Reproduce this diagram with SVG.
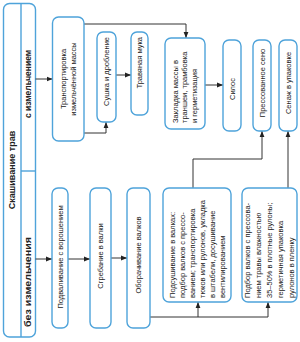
<svg xmlns="http://www.w3.org/2000/svg" width="300" height="342" viewBox="0 0 300 342">
<defs>
<marker id="ah" viewBox="0 0 10 10" refX="10" refY="5" markerWidth="6" markerHeight="6" markerUnits="userSpaceOnUse" orient="auto">
<path d="M0,1 L10,5 L0,9 z" fill="#222"/>
</marker>
<style>
.box{fill:#fff;stroke:#4ea3da;stroke-width:1.4}
.ln{fill:none;stroke:#4ea3da;stroke-width:1.4}
.c{fill:none;stroke:#333;stroke-width:1}
.a{marker-end:url(#ah)}
text{font-family:"Liberation Sans",Arial,sans-serif;font-size:7.5px;fill:#222}
.h{font-weight:bold;font-size:9px}
.s{font-weight:bold;font-size:8.5px}
.m{text-anchor:middle}
.e{text-anchor:end}
</style>
</defs>
<rect width="300" height="342" fill="#fff"/>
<g id="root">
<rect class="box" x="3.5" y="3.5" width="32" height="333.5" rx="6"/>
<line class="ln" x1="21" y1="3.5" x2="21" y2="337"/>
<line class="ln" x1="21" y1="171" x2="35.5" y2="171"/>
<text class="h m" transform="translate(15,170) rotate(-90)">Скашивание трав</text>
<text class="s m" transform="translate(31,84) rotate(-90)">с измельчением</text>
<text class="s m" transform="translate(31.3,282) rotate(-90)" style="font-size:9.5px" textLength="90" lengthAdjust="spacingAndGlyphs">без измельчения</text>
</g>
<g id="connectors">
<path class="c a" d="M35.5,79 H52.5"/>
<path class="c a" d="M84,24 H186 V38"/>
<path class="c a" d="M84,133 H106 V122"/>
<path class="c a" d="M116,75 H131"/>
<path class="c a" d="M205,85 H223"/>
<path class="c a" d="M35.5,259 H52"/>
<path class="c a" d="M68,259 H90"/>
<path class="c a" d="M111,258 H127"/>
<path class="c" d="M150,317 H268"/>
<path class="c a" d="M198,317 V302"/>
<path class="c a" d="M268,317 V302"/>
<path class="c a" d="M193,188 V159 H262 V131"/>
<path class="c a" d="M288,188 V131"/>
</g>
<g id="transport">
<rect class="box" x="52.5" y="17" width="31.5" height="124" rx="6"/>
<text class="m" transform="translate(66,79) rotate(-90)">Транспортировка</text>
<text class="m" transform="translate(76,79) rotate(-90)">измельчённой массы</text>
</g>
<g id="sushka">
<rect class="box" x="97" y="32" width="19" height="90" rx="6"/>
<text class="e" transform="translate(109,37) rotate(-90)">Сушка и дробление</text>
</g>
<g id="muka">
<rect class="box" x="131" y="32" width="17" height="83" rx="6"/>
<text class="e" transform="translate(142,37) rotate(-90)">Травяная мука</text>
</g>
<g id="zakladka">
<rect class="box" x="165" y="38" width="40" height="91" rx="6"/>
<text transform="translate(177.5,123) rotate(-90)">Закладка массы в</text>
<text transform="translate(187,123) rotate(-90)">траншеи, трамбовка</text>
<text transform="translate(196.5,123) rotate(-90)">и герметизация</text>
</g>
<g id="silos">
<rect class="box" x="223" y="40" width="18" height="91" rx="6"/>
<text class="m" transform="translate(234.5,89) rotate(-90)">Силос</text>
</g>
<g id="seno">
<rect class="box" x="253" y="40" width="18" height="91" rx="6"/>
<text class="m" transform="translate(264.5,83) rotate(-90)">Прессованное сено</text>
</g>
<g id="senazh">
<rect class="box" x="279" y="40" width="18" height="91" rx="6"/>
<text class="m" transform="translate(290.5,83) rotate(-90)">Сенаж в упаковке</text>
</g>
<g id="podvalivanie">
<rect class="box" x="52" y="188" width="16" height="140" rx="6"/>
<text class="m" transform="translate(62.5,257) rotate(-90)">Подваливание с ворошением</text>
</g>
<g id="sgrebanie">
<rect class="box" x="90" y="188" width="21" height="140" rx="6"/>
<text class="m" transform="translate(103,256) rotate(-90)">Сгребание в валки</text>
</g>
<g id="oborachivanie">
<rect class="box" x="127" y="188" width="23" height="140" rx="6"/>
<text class="m" transform="translate(141,255) rotate(-90)">Оборачивание валков</text>
</g>
<g id="podsushivanie">
<rect class="box" x="163" y="188" width="68" height="114" rx="6"/>
<text transform="translate(174.6,298) rotate(-90)">Подсушивание в валках:</text>
<text transform="translate(184.6,298) rotate(-90)">подбор валков с прессо-</text>
<text transform="translate(194.6,298) rotate(-90)">ванием; транспортировка</text>
<text transform="translate(204.6,298) rotate(-90)">тюков или рулонов, укладка</text>
<text transform="translate(214.6,298) rotate(-90)">в штабели, досушивание</text>
<text transform="translate(224.6,298) rotate(-90)">вентилированием</text>
</g>
<g id="podbor">
<rect class="box" x="242" y="188" width="55" height="114" rx="6"/>
<text transform="translate(249.6,298) rotate(-90)">Подбор валков с прессова-</text>
<text transform="translate(260.6,298) rotate(-90)">нием травы влажностью</text>
<text transform="translate(271.6,298) rotate(-90)">35–50% в плотные рулоны;</text>
<text transform="translate(282.6,298) rotate(-90)">герметичная упаковка</text>
<text transform="translate(293.6,298) rotate(-90)">рулонов в пленку</text>
</g>
</svg>
